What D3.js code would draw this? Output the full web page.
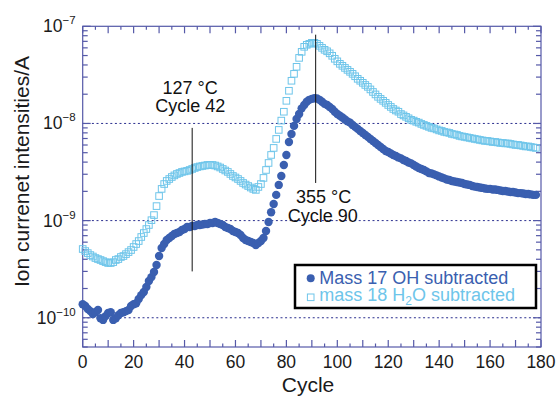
<!DOCTYPE html>
<html lang="en">
  <head>
    <meta charset="utf-8">
    <title>Ion current vs cycle</title>
    <script type="text/javascript" src="https://d3js.org/d3.v7.min.js"></script>
    <style>
    body { margin: 0; background: #fff; }
    svg { display: block; font-family: "Liberation Sans", Arial, Helvetica, sans-serif; }
    </style>
  </head>
  <body>
    <div id="chart"></div>
    <script type="text/javascript">

      // one reading per cycle, cycles 0..178
      var cycles = d3.range(0, 179);

      // Mass 17 OH subtracted (A)
      var ohValues = [
        1.38e-10, 1.32e-10, 1.23e-10, 1.17e-10, 1.09e-10, 1.14e-10, 1.20e-10, 0.99e-10, 0.95e-10, 1.04e-10,
        1.12e-10, 1.14e-10, 0.95e-10, 0.99e-10, 1.06e-10, 1.12e-10, 1.14e-10, 1.17e-10, 1.20e-10, 1.32e-10,
        1.38e-10, 1.41e-10, 1.56e-10, 1.71e-10, 1.84e-10, 2.07e-10, 2.39e-10, 2.62e-10, 2.96e-10, 3.49e-10,
        4.32e-10, 5.22e-10, 5.74e-10, 6.31e-10, 6.62e-10, 6.94e-10, 7.28e-10, 7.45e-10, 7.63e-10, 8.00e-10,
        8.19e-10, 8.59e-10, 8.59e-10, 8.80e-10, 8.80e-10, 9.01e-10, 9.01e-10, 9.12e-10, 9.23e-10, 9.23e-10,
        9.45e-10, 9.45e-10, 9.67e-10, 9.45e-10, 9.23e-10, 9.01e-10, 8.59e-10, 8.39e-10, 8.19e-10, 7.81e-10,
        7.63e-10, 7.45e-10, 7.11e-10, 6.62e-10, 6.31e-10, 6.16e-10, 6.02e-10, 5.88e-10, 5.61e-10, 5.88e-10,
        6.16e-10, 6.62e-10, 7.81e-10, 9.67e-10, 1.22e-9, 1.48e-9, 1.84e-9, 2.33e-9, 2.88e-9, 3.74e-9,
        4.74e-9, 6.45e-9, 7.80e-9, 9.44e-9, 1.11e-8, 1.25e-8, 1.43e-8, 1.55e-8, 1.67e-8, 1.75e-8,
        1.79e-8, 1.82e-8, 1.81e-8, 1.75e-8, 1.67e-8, 1.59e-8, 1.55e-8, 1.48e-8, 1.41e-8, 1.32e-8,
        1.25e-8, 1.20e-8, 1.15e-8, 1.10e-8, 1.05e-8, 1.02e-8, 9.66e-9, 9.22e-9, 8.79e-9, 8.38e-9,
        7.99e-9, 7.62e-9, 7.27e-9, 6.93e-9, 6.61e-9, 6.30e-9, 6.01e-9, 5.73e-9, 5.47e-9, 5.21e-9,
        5.09e-9, 4.91e-9, 4.74e-9, 4.63e-9, 4.47e-9, 4.37e-9, 4.21e-9, 4.11e-9, 3.97e-9, 3.88e-9,
        3.74e-9, 3.61e-9, 3.48e-9, 3.40e-9, 3.32e-9, 3.21e-9, 3.09e-9, 3.06e-9, 2.99e-9, 2.92e-9,
        2.85e-9, 2.78e-9, 2.72e-9, 2.65e-9, 2.62e-9, 2.56e-9, 2.53e-9, 2.50e-9, 2.47e-9, 2.44e-9,
        2.38e-9, 2.35e-9, 2.33e-9, 2.27e-9, 2.24e-9, 2.22e-9, 2.19e-9, 2.17e-9, 2.14e-9, 2.12e-9,
        2.12e-9, 2.09e-9, 2.09e-9, 2.07e-9, 2.04e-9, 2.02e-9, 2.02e-9, 1.99e-9, 1.97e-9, 1.97e-9,
        1.95e-9, 1.92e-9, 1.92e-9, 1.90e-9, 1.88e-9, 1.88e-9, 1.86e-9, 1.84e-9, 1.84e-9
      ];

      // mass 18 H2O subtracted (A)
      var h2oValues = [
        5.10e-10, 4.86e-10, 4.63e-10, 4.42e-10, 4.27e-10, 4.12e-10, 4.02e-10, 3.93e-10, 3.83e-10, 3.74e-10,
        3.66e-10, 3.66e-10, 3.74e-10, 3.93e-10, 4.02e-10, 4.22e-10, 4.32e-10, 4.52e-10, 4.74e-10, 4.98e-10,
        5.35e-10, 5.74e-10, 6.16e-10, 6.78e-10, 7.45e-10, 8.19e-10, 9.01e-10, 1.01e-9, 1.14e-9, 1.41e-9,
        1.79e-9, 2.12e-9, 2.38e-9, 2.56e-9, 2.68e-9, 2.81e-9, 2.92e-9, 3.02e-9, 3.09e-9, 3.17e-9,
        3.21e-9, 3.25e-9, 3.32e-9, 3.40e-9, 3.48e-9, 3.56e-9, 3.61e-9, 3.65e-9, 3.69e-9, 3.74e-9,
        3.74e-9, 3.74e-9, 3.69e-9, 3.61e-9, 3.52e-9, 3.40e-9, 3.28e-9, 3.17e-9, 3.02e-9, 2.88e-9,
        2.78e-9, 2.68e-9, 2.56e-9, 2.44e-9, 2.35e-9, 2.27e-9, 2.19e-9, 2.12e-9, 2.07e-9, 2.22e-9,
        2.38e-9, 2.75e-9, 3.32e-9, 3.92e-9, 4.74e-9, 5.60e-9, 6.93e-9, 8.58e-9, 1.07e-8, 1.32e-8,
        1.71e-8, 2.17e-8, 2.75e-8, 3.24e-8, 3.83e-8, 4.73e-8, 5.46e-8, 6.15e-8, 6.45e-8, 6.60e-8,
        6.76e-8, 6.76e-8, 6.60e-8, 6.30e-8, 6.00e-8, 5.73e-8, 5.53e-8, 5.27e-8, 4.97e-8, 4.63e-8,
        4.36e-8, 4.11e-8, 3.92e-8, 3.73e-8, 3.56e-8, 3.40e-8, 3.24e-8, 3.06e-8, 2.88e-8, 2.75e-8,
        2.62e-8, 2.49e-8, 2.38e-8, 2.24e-8, 2.11e-8, 1.99e-8, 1.88e-8, 1.79e-8, 1.71e-8, 1.63e-8,
        1.55e-8, 1.48e-8, 1.41e-8, 1.36e-8, 1.32e-8, 1.25e-8, 1.21e-8, 1.17e-8, 1.13e-8, 1.09e-8,
        1.07e-8, 1.04e-8, 1.02e-8, 9.89e-9, 9.66e-9, 9.44e-9, 9.22e-9, 9.00e-9, 8.89e-9, 8.68e-9,
        8.48e-9, 8.38e-9, 8.18e-9, 8.09e-9, 7.99e-9, 7.80e-9, 7.71e-9, 7.62e-9, 7.44e-9, 7.35e-9,
        7.27e-9, 7.18e-9, 7.10e-9, 7.01e-9, 6.93e-9, 6.85e-9, 6.77e-9, 6.69e-9, 6.61e-9, 6.61e-9,
        6.53e-9, 6.45e-9, 6.45e-9, 6.38e-9, 6.30e-9, 6.30e-9, 6.23e-9, 6.23e-9, 6.16e-9, 6.08e-9,
        6.01e-9, 6.01e-9, 5.94e-9, 5.87e-9, 5.80e-9, 5.80e-9, 5.73e-9, 5.66e-9, 5.60e-9
      ];

      var xTickLabels = [0, 20, 40, 60, 80, 100, 120, 140, 160, 180];
      var yTickExponents = [-10, -9, -8, -7];
      var gridValues = [1e-10, 1e-9, 1e-8];

      // annotation lines: cycle, lower and upper current, two text lines
      var markCycles = [43, 91.5];
      var markLow = [3.0e-10, 2.44e-9];
      var markHigh = [9.0e-9, 8.2e-8];
      var markTemps = ["127 \u00B0C", "355 \u00B0C"];
      var markLabels = ["Cycle 42", "Cycle 90"];

      var legendNames = ["Mass 17 OH subtracted", "mass 18 H2O subtracted"];

      var W = 558, H = 399;
      var plotLeft = 82.7, plotRight = 541, plotTop = 26.3, plotBottom = 347;

      var frameColor = "#5559a8";
      var ohColor = "#3a5fb0";
      var h2oColor = "#6ec5ea";

      var svg = d3.select("#chart").append("svg")
          .attr("width", W)
          .attr("height", H);

      var x = d3.scaleLinear()
          .domain([0, 180])
          .range([plotLeft, plotRight]);

      var y = d3.scaleLog()
          .domain([5e-11, 1e-7])
          .range([plotBottom, plotTop]);

      // dotted gridlines at the decades
      svg.append("g").selectAll("line")
          .data(gridValues)
          .enter().append("line")
            .attr("x1", plotLeft)
            .attr("x2", plotRight)
            .attr("y1", function(d) { return y(d); })
            .attr("y2", function(d) { return y(d); })
            .attr("stroke", "#2b2f8f")
            .attr("stroke-width", 1)
            .attr("stroke-dasharray", "2,2.6");

      // axes, ticks pointing inward
      var xMinor = d3.range(0, 181, 5);
      var logTicks = y.ticks(40);

      function xTickLen(d) { return d % 10 === 0 ? 7 : 3.5; }
      function yTickLen(d) {
        var m = d / Math.pow(10, Math.floor(Math.log10(d) + 1e-9));
        return Math.abs(m - 1) < 1e-6 ? 8 : 5;
      }

      var axes = svg.append("g")
          .attr("stroke", frameColor)
          .attr("stroke-width", 1.2);

      axes.selectAll(".xb")
          .data(xMinor)
          .enter().append("line")
            .attr("class", "xb")
            .attr("x1", function(d) { return x(d); })
            .attr("x2", function(d) { return x(d); })
            .attr("y1", plotBottom)
            .attr("y2", function(d) { return plotBottom - xTickLen(d); });

      axes.selectAll(".xt")
          .data(xMinor)
          .enter().append("line")
            .attr("class", "xt")
            .attr("x1", function(d) { return x(d); })
            .attr("x2", function(d) { return x(d); })
            .attr("y1", plotTop)
            .attr("y2", function(d) { return plotTop + xTickLen(d); });

      axes.selectAll(".yl")
          .data(logTicks)
          .enter().append("line")
            .attr("class", "yl")
            .attr("x1", plotLeft)
            .attr("x2", function(d) { return plotLeft + yTickLen(d); })
            .attr("y1", function(d) { return y(d); })
            .attr("y2", function(d) { return y(d); });

      axes.selectAll(".yr")
          .data(logTicks)
          .enter().append("line")
            .attr("class", "yr")
            .attr("x1", plotRight)
            .attr("x2", function(d) { return plotRight - yTickLen(d); })
            .attr("y1", function(d) { return y(d); })
            .attr("y2", function(d) { return y(d); });

      axes.append("rect")
          .attr("x", plotLeft)
          .attr("y", plotTop)
          .attr("width", plotRight - plotLeft)
          .attr("height", plotBottom - plotTop)
          .attr("fill", "none");

      // tick labels
      svg.append("g").selectAll("text")
          .data(xTickLabels)
          .enter().append("text")
            .attr("x", function(d) { return x(d); })
            .attr("y", plotBottom + 21)
            .attr("text-anchor", "middle")
            .attr("font-size", "17.5px")
            .attr("fill", "#1a1a1a")
            .text(function(d) { return d; });

      var yLabels = svg.append("g").selectAll("text")
          .data(yTickExponents)
          .enter().append("text")
            .attr("x", plotLeft - 7)
            .attr("y", function(d) { return y(Math.pow(10, d)) + 6; })
            .attr("text-anchor", "end")
            .attr("fill", "#1a1a1a");
      yLabels.append("tspan")
          .attr("font-size", "17.5px")
          .text("10");
      yLabels.append("tspan")
          .attr("font-size", "11.5px")
          .attr("dy", -8)
          .text(function(d) { return "\u2212" + Math.abs(d); });

      // axis titles
      svg.append("text")
          .attr("x", 308)
          .attr("y", 392)
          .attr("text-anchor", "middle")
          .attr("font-size", "21px")
          .attr("fill", "#1a1a1a")
          .text("Cycle");

      svg.append("text")
          .attr("transform", "translate(28.5," + 171.5 + ") rotate(-90)")
          .attr("text-anchor", "middle")
          .attr("font-size", "21px")
          .attr("fill", "#1a1a1a")
          .text("Ion currenet intensities/A");

      // H2O squares first, then OH circles
      var sq = 6.6;
      svg.append("g").selectAll("rect")
          .data(cycles)
          .enter().append("rect")
            .attr("x", function(d) { return x(d) - sq / 2; })
            .attr("y", function(d, i) { return y(h2oValues[i]) - sq / 2; })
            .attr("width", sq)
            .attr("height", sq)
            .attr("fill", "none")
            .attr("stroke", h2oColor)
            .attr("stroke-width", 1);

      svg.append("g").selectAll("circle")
          .data(cycles)
          .enter().append("circle")
            .attr("cx", function(d) { return x(d); })
            .attr("cy", function(d, i) { return y(ohValues[i]); })
            .attr("r", 4.2)
            .attr("fill", ohColor);

      // annotations
      var marks = svg.append("g");
      marks.selectAll("line")
          .data(markCycles)
          .enter().append("line")
            .attr("x1", function(d) { return x(d); })
            .attr("x2", function(d) { return x(d); })
            .attr("y1", function(d, i) { return y(markHigh[i]); })
            .attr("y2", function(d, i) { return y(markLow[i]); })
            .attr("stroke", "#111")
            .attr("stroke-width", 1);

      // first label sits above its line, second below
      marks.append("text")
          .attr("x", x(markCycles[0]) - 2)
          .attr("y", y(markHigh[0]) - 34)
          .attr("text-anchor", "middle")
          .attr("font-size", "18px")
          .attr("fill", "#111")
          .text(markTemps[0]);
      marks.append("text")
          .attr("x", x(markCycles[0]) - 2)
          .attr("y", y(markHigh[0]) - 15.5)
          .attr("text-anchor", "middle")
          .attr("font-size", "18px")
          .attr("fill", "#111")
          .text(markLabels[0]);
      marks.append("text")
          .attr("x", x(markCycles[1]) + 8)
          .attr("y", y(markLow[1]) + 20)
          .attr("text-anchor", "middle")
          .attr("font-size", "18px")
          .attr("fill", "#111")
          .text(markTemps[1]);
      marks.append("text")
          .attr("x", x(markCycles[1]) + 7)
          .attr("y", y(markLow[1]) + 39)
          .attr("text-anchor", "middle")
          .attr("font-size", "18px")
          .attr("fill", "#111")
          .text(markLabels[1]);

      // legend
      var lg = svg.append("g").attr("transform", "translate(295,265)");
      lg.append("rect")
          .attr("width", 241)
          .attr("height", 43)
          .attr("fill", "#fff")
          .attr("stroke", "#000")
          .attr("stroke-width", 2.5);
      lg.append("circle")
          .attr("cx", 15.7)
          .attr("cy", 13.3)
          .attr("r", 4)
          .attr("fill", ohColor);
      lg.append("rect")
          .attr("x", 15.7 - 3.3)
          .attr("y", 32.3 - 3.3)
          .attr("width", 6.6)
          .attr("height", 6.6)
          .attr("fill", "none")
          .attr("stroke", h2oColor);
      lg.append("text")
          .attr("x", 24.3)
          .attr("y", 18.5)
          .attr("font-size", "18px")
          .attr("fill", ohColor)
          .text(legendNames[0]);
      var t2 = lg.append("text")
          .attr("x", 24.3)
          .attr("y", 35.8)
          .attr("font-size", "18px")
          .attr("fill", h2oColor);
      t2.append("tspan").text("mass 18 H");
      t2.append("tspan").attr("font-size", "12px").attr("dy", 4).text("2");
      t2.append("tspan").attr("dy", -4).text("O subtracted");

    </script>
  </body>
</html>
